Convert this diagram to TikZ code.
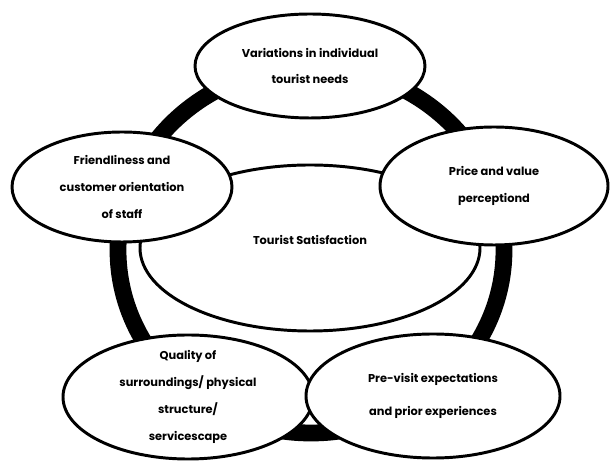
\documentclass[tikz,border=0pt]{standalone}
\usepackage{fontspec}
\setmainfont{Poppins}
\usetikzlibrary{shapes.geometric}

\begin{document}
\begin{tikzpicture}[
    factor/.style={ellipse, draw, line width=2.1pt, fill=white, inner xsep=0pt, inner ysep=-4mm,
        align=center, font=\fontsize{8.1}{19}\selectfont\bfseries},
    ring/.style={line width=0.42cm}
]
    \useasboundingbox (0,0) rectangle (15.25,11.525);

    % Thick ring running behind all factors
    \draw[ring] (7.775,5.275) ellipse [x radius=4.825, y radius=4.575];

    % Core
    \node[factor, minimum width=8.5cm, minimum height=4.15cm] (sat) at (7.75,5.325) {};
    \node[font=\fontsize{8.1}{19}\selectfont\bfseries] (satlbl) at ([yshift=0.2cm]sat.center) {Tourist Satisfaction};

    % Factors around the ring
    \node[factor, minimum width=5.75cm, minimum height=2.6cm] (needs) at (7.75,9.875)
        {Variations in individual\\tourist needs};
    \node[factor, minimum width=5.5cm, minimum height=2.75cm] (staff) at (3.05,6.85)
        {Friendliness and\\customer orientation\\of staff};
    \node[factor, minimum width=5.7cm, minimum height=2.95cm] (price) at (12.35,6.875)
        {Price and value\\perceptiond};
    \node[factor, minimum width=6.25cm, minimum height=3.1cm] (scape) at (4.7,1.6)
        {Quality of\\surroundings/ physical\\structure/\\servicescape};
    \node[factor, minimum width=6.35cm, minimum height=3.1cm,
          font=\fontsize{8.1}{23}\selectfont\bfseries] (expect) at (10.825,1.625)
        {Pre-visit expectations\\and prior experiences};
\end{tikzpicture}
\end{document}
